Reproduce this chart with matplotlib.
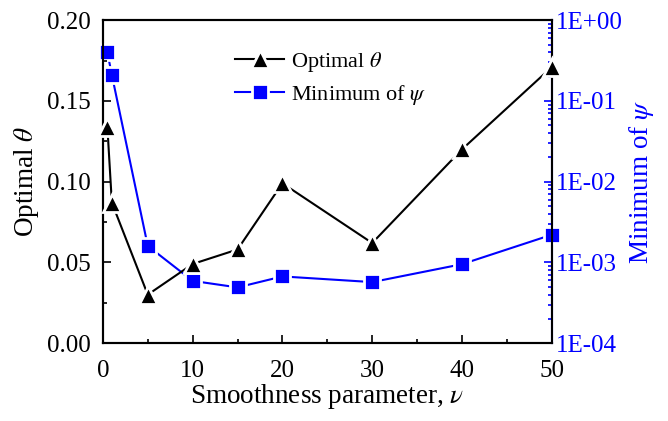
import matplotlib.pyplot as plt
import numpy as np
from matplotlib.ticker import FuncFormatter, MultipleLocator, LogLocator

plt.rcParams['font.family'] = ['Liberation Serif', 'DejaVu Serif']
plt.rcParams['mathtext.fontset'] = 'stix'

# smoothness parameter values
nu = [0.5, 1, 5, 10, 15, 20, 30, 40, 50]
# optimal theta at each nu
theta = [0.134, 0.087, 0.030, 0.049, 0.058, 0.099, 0.062, 0.120, 0.171]
# minimum of psi at each nu
psi_min = [0.40, 0.21, 1.6e-3, 5.9e-4, 4.9e-4, 6.7e-4, 5.7e-4, 9.5e-4, 2.2e-3]

fig = plt.figure(figsize=(6.68, 4.21), dpi=100)
ax = fig.add_axes([0.154, 0.185, 0.672, 0.767])
ax2 = ax.twinx()

# white marker edges leave a small gap between line and marker
l1, = ax.plot(nu, theta, '-', color='black', lw=1.5, marker='^', ms=13.5,
              mfc='black', mec='white', mew=2, clip_on=False, zorder=3,
              label=r'Optimal $\theta$')
l2, = ax2.plot(nu, psi_min, '-', color='blue', lw=1.5, marker='s', ms=11,
               mfc='blue', mec='white', mew=2, clip_on=False, zorder=3,
               label=r'Minimum of $\psi$')

ax.set_xlim(0, 50)
ax.set_ylim(0, 0.20)
ax.xaxis.set_major_locator(MultipleLocator(10))
ax.xaxis.set_minor_locator(MultipleLocator(5))
ax.yaxis.set_major_locator(MultipleLocator(0.05))
ax.yaxis.set_minor_locator(MultipleLocator(0.025))
ax.yaxis.set_major_formatter(FuncFormatter(lambda v, p: f'{v:.2f}'))
ax.tick_params(which='both', direction='in', labelsize=18, width=1.2,
               top=False, right=False)
ax.tick_params(which='major', length=6)
ax.tick_params(which='minor', length=3)
ax.tick_params(axis='x', pad=12)
ax.tick_params(axis='y', pad=9)
ax.set_xlabel(r'Smoothness parameter, $\nu$', fontsize=19.5, labelpad=0)
ax.set_ylabel(r'Optimal $\theta$', fontsize=19.5, labelpad=4)

ax2.set_yscale('log')
ax2.set_ylim(1e-4, 1)
ax2.yaxis.set_major_locator(LogLocator(base=10, numticks=10))
ax2.yaxis.set_minor_locator(LogLocator(base=10, subs=np.arange(2, 10), numticks=10))
ax2.yaxis.set_major_formatter(FuncFormatter(lambda v, p: f'1E{int(round(np.log10(v))):+03d}'))
ax2.tick_params(which='both', direction='in', colors='blue', labelsize=18, width=1.2, pad=3)
ax2.tick_params(which='major', length=6)
ax2.tick_params(which='minor', length=3)
ax2.set_ylabel(r'Minimum of $\psi$', fontsize=19.5, color='blue', labelpad=3)
ax2.spines['right'].set_color('blue')

for a in (ax, ax2):
    for s in a.spines.values():
        s.set_linewidth(1.5)

ax.set_zorder(ax2.get_zorder() + 1)
ax.patch.set_visible(False)

ax.legend(handles=[l1, l2], loc='upper left', bbox_to_anchor=(0.25, 0.97),
          frameon=False, fontsize=16, handlelength=2.2, handletextpad=0.3,
          labelspacing=0.4)

fig.savefig('out.png', dpi=100)
